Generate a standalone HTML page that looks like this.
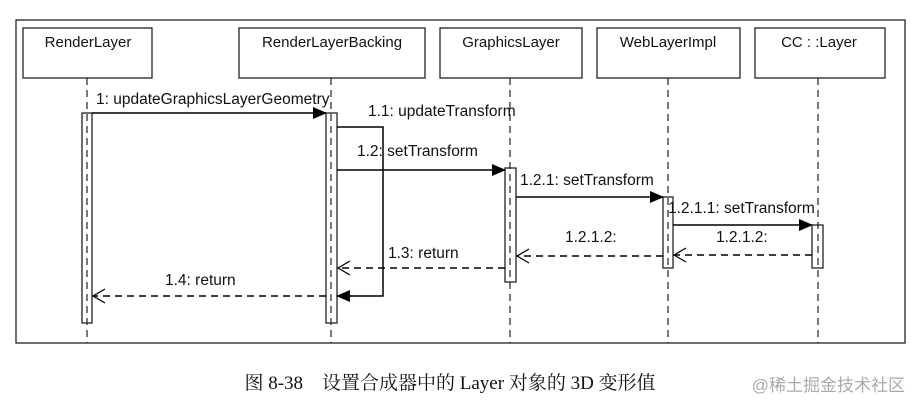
<!DOCTYPE html>
<html><head><meta charset="utf-8"><style>
body{margin:0;background:#fff}
svg text{font-family:"Liberation Sans",sans-serif;font-size:15.5px;fill:#111}
</style></head><body>
<svg width="920" height="409" xmlns="http://www.w3.org/2000/svg">
<defs>
<marker id="f" markerWidth="14" markerHeight="12" refX="13" refY="6" orient="auto" markerUnits="userSpaceOnUse"><path d="M0,0 L14,6 L0,12 Z" fill="#000"/></marker>
<marker id="o" markerWidth="14" markerHeight="16" refX="13" refY="8" orient="auto" markerUnits="userSpaceOnUse"><path d="M1,1 L13,8 L1,15" fill="none" stroke="#000" stroke-width="1.3"/></marker>
</defs>
<rect x="16" y="20" width="889" height="323" fill="none" stroke="#222" stroke-width="1.3"/>
<g fill="#fff" stroke="#222" stroke-width="1.3">
<rect x="23" y="28" width="129" height="50"/>
<rect x="239" y="28" width="186" height="50"/>
<rect x="440" y="28" width="142" height="50"/>
<rect x="597" y="28" width="143" height="50"/>
<rect x="755" y="28" width="130" height="50"/>
</g>
<g text-anchor="middle" style="font-size:15px">
<text x="88" y="47" style="font-size:15px">RenderLayer</text>
<text x="332" y="47" style="font-size:15px">RenderLayerBacking</text>
<text x="511" y="47" style="font-size:15px">GraphicsLayer</text>
<text x="668" y="47" style="font-size:15px">WebLayerImpl</text>
<text x="819" y="47" style="font-size:15px">CC : :Layer</text>
</g>
<g stroke="#222" stroke-width="1.2" stroke-dasharray="7,5">
<line x1="87" y1="78" x2="87" y2="343"/>
<line x1="331" y1="78" x2="331" y2="343"/>
<line x1="510" y1="78" x2="510" y2="343"/>
<line x1="668" y1="78" x2="668" y2="343"/>
<line x1="818" y1="78" x2="818" y2="343"/>
</g>
<g fill="none" stroke="#222" stroke-width="1.3">
<rect x="82" y="113" width="10" height="210"/>
<rect x="326" y="113" width="11" height="210"/>
<rect x="505" y="168" width="11" height="114"/>
<rect x="663" y="197" width="10" height="71"/>
<rect x="812" y="225" width="11" height="43"/>
</g>
<g stroke="#000" stroke-width="1.5" fill="none">
<line x1="92" y1="113" x2="326" y2="113" marker-end="url(#f)"/>
<polyline points="337,127 383,127 383,296 337,296" marker-end="url(#f)"/>
<line x1="337" y1="170" x2="505" y2="170" marker-end="url(#f)"/>
<line x1="516" y1="197" x2="663" y2="197" marker-end="url(#f)"/>
<line x1="673" y1="225" x2="812" y2="225" marker-end="url(#f)"/>
</g>
<g stroke="#000" stroke-width="1.5" stroke-dasharray="7,5" fill="none">
<line x1="812" y1="255" x2="674" y2="255" marker-end="url(#o)"/>
<line x1="663" y1="256" x2="517" y2="256" marker-end="url(#o)"/>
<line x1="505" y1="268" x2="338" y2="268" marker-end="url(#o)"/>
<line x1="326" y1="296" x2="93" y2="296" marker-end="url(#o)"/>
</g>
<text x="96" y="104">1: updateGraphicsLayerGeometry</text>
<text x="368" y="116">1.1: updateTransform</text>
<text x="357" y="156">1.2: setTransform</text>
<text x="520" y="185">1.2.1: setTransform</text>
<text x="668" y="213">1.2.1.1: setTransform</text>
<text x="716" y="242">1.2.1.2:</text>
<text x="565" y="242">1.2.1.2:</text>
<text x="388" y="258">1.3: return</text>
<text x="165" y="285">1.4: return</text>
<text x="450" y="389" text-anchor="middle" style="font-family:'Liberation Serif','Noto Serif CJK SC',serif;font-size:19px">图 8-38　设置合成器中的 Layer 对象的 3D 变形值</text>
<text x="905" y="391" text-anchor="end" style="font-family:'Liberation Sans','Noto Sans CJK SC',sans-serif;font-size:17px;fill:#aaa">@稀土掘金技术社区</text>
</svg>
</body></html>
